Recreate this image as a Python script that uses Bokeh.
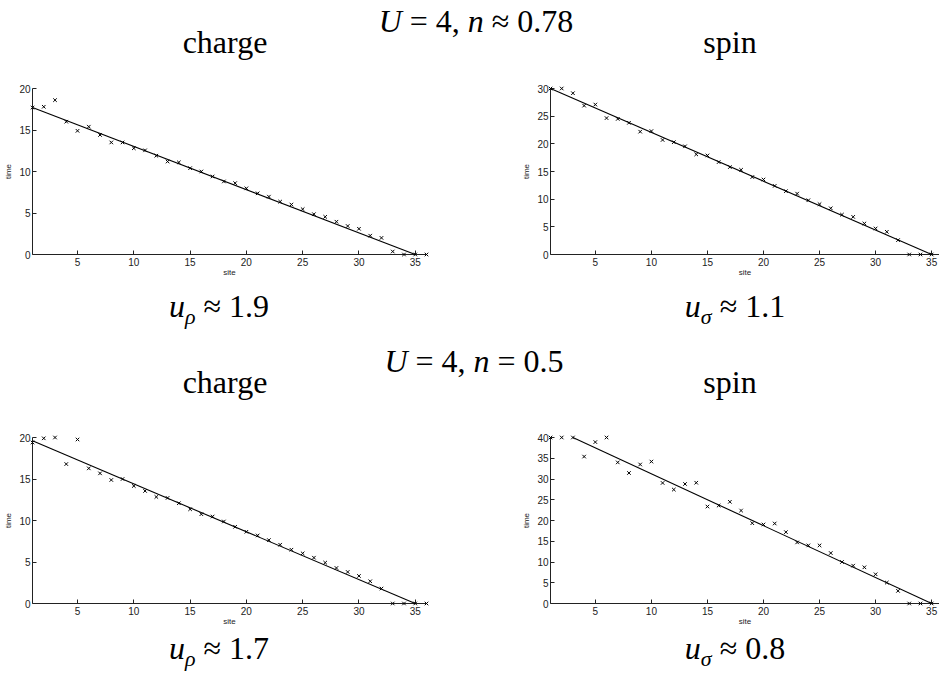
from bokeh.plotting import figure
from bokeh.models import Range1d, FixedTicker, Div
from bokeh.layouts import column, row
from bokeh.embed import file_html
from bokeh.resources import INLINE

# lattice sites probed by the excitation
sites = list(range(1, 37))

# arrival times, U = 4, n ~ 0.78
charge_n078 = [17.7, 17.8, 18.6, 16.0, 14.9, 15.4, 14.4, 13.5, 13.5, 12.8, 12.55, 11.9,
               11.2, 11.1, 10.4, 10.0, 9.4, 8.8, 8.6, 7.97, 7.37, 6.97, 6.37, 6.02,
               5.46, 4.86, 4.54, 3.95, 3.43, 3.1, 2.27, 2.0, 0.36, 0.0, 0.0, 0.0]
spin_n078 = [30.0, 30.0, 29.15, 26.9, 27.1, 24.65, 24.5, 23.8, 22.2, 22.3, 20.7, 20.3,
             19.55, 18.1, 17.9, 16.7, 15.8, 15.3, 14.0, 13.55, 12.4, 11.45, 11.0, 9.8,
             9.1, 8.35, 7.2, 6.8, 5.6, 4.7, 4.1, 2.6, 0.0, 0.0, 0.0, 0.0]

# arrival times, U = 4, n = 0.5
charge_n05 = [19.4, 19.9, 20.0, 16.8, 19.76, 16.28, 15.68, 14.88, 15.0, 14.16, 13.56, 12.84,
              12.72, 12.08, 11.36, 10.76, 10.48, 9.88, 9.24, 8.64, 8.2, 7.64, 7.08, 6.48,
              6.04, 5.52, 4.92, 4.28, 3.8, 3.32, 2.68, 1.8, 0.0, 0.0, 0.0, 0.0]
spin_n05 = [40.0, 40.0, 40.0, 35.4, 38.9, 40.0, 34.0, 31.45, 33.5, 34.2, 29.05, 27.45,
            28.8, 29.1, 23.36, 23.6, 24.5, 22.4, 19.35, 19.04, 19.28, 17.2, 14.72, 14.0,
            14.0, 12.16, 10.0, 9.12, 8.72, 7.04, 5.04, 3.04, 0.0, 0.0, 0.0, 0.0]

# fitted front velocities and the first site of each fit
u_charge_n078, u_spin_n078 = 1.92, 1.133
u_charge_n05, u_spin_n05 = 1.735, 0.80
fit_start = [1, 1, 1, 3]
front_site = 35

y_ticks_charge = [0, 5, 10, 15, 20]
y_ticks_spin_n078 = [0, 5, 10, 15, 20, 25, 30]
y_ticks_spin_n05 = [0, 5, 10, 15, 20, 25, 30, 35, 40]
x_ticks = [5, 10, 15, 20, 25, 30, 35]

SERIF = "'Liberation Serif', 'Times New Roman', serif"
AXIS_FONT = "Liberation Sans"
INK = "#222222"


def style_axis(ax, label):
    ax.axis_line_color = INK
    ax.major_tick_line_color = INK
    ax.minor_tick_line_color = None
    ax.major_tick_in = 4
    ax.major_tick_out = 0
    ax.major_label_text_font = AXIS_FONT
    ax.major_label_text_font_size = "10px"
    ax.major_label_text_color = INK
    ax.axis_label = label
    ax.axis_label_text_font = AXIS_FONT
    ax.axis_label_text_font_size = "8px"
    ax.axis_label_text_font_style = "normal"
    ax.axis_label_text_color = INK


def panel(times, u, start, yticks, width, height, borders, x_end):
    ymax = yticks[-1]
    p = figure(width=width, height=height, output_backend="svg", toolbar_location=None,
               x_range=Range1d(sites[0], x_end), y_range=Range1d(0, ymax),
               min_border_left=borders[0], min_border_right=borders[1],
               min_border_top=borders[2], min_border_bottom=borders[3])
    p.outline_line_color = None
    p.grid.visible = False
    p.background_fill_color = "white"
    p.border_fill_color = "white"

    # drawn on the overlay level so markers sitting on the axes are not cut off
    p.scatter(sites, times, marker="x", size=5, line_color="black", line_width=1,
              level="overlay")
    p.line([start, front_site], [(front_site - start) / u, 0],
           line_color="black", line_width=1.1, level="overlay")

    xa = p.xaxis[0]
    xa.ticker = FixedTicker(ticks=x_ticks)
    style_axis(xa, "site")
    xa.major_label_standoff = 3
    xa.axis_label_standoff = -1

    ya = p.yaxis[0]
    ya.ticker = FixedTicker(ticks=yticks)
    style_axis(ya, "time")
    ya.major_label_standoff = 2
    ya.axis_label_standoff = 3
    return p


def text_block(width, height, items):
    parts = []
    for cx, baseline, html in items:
        parts.append(
            f'<div style="position:absolute;left:{cx - 250}px;width:500px;top:{baseline - 26}px;'
            f'text-align:center;font-family:{SERIF};font-size:32px;line-height:30px;'
            f'white-space:nowrap;color:#000">{html}</div>')
    html = (f'<div style="position:relative;width:{width}px;height:{height}px;overflow:visible">'
            + "".join(parts) + "</div>")
    return Div(text=html, width=width, height=height, margin=0)


def velocity(sym, u):
    return (f'<i>u</i><span style="font-size:22px;font-style:italic;position:relative;top:7px">'
            f'{sym}</span> &#8776; {u:.1f}')


W = 939
top_a = text_block(W, 60, [
    (476, 32, '<i>U</i> = 4, <i>n</i> &#8776; 0.78'),
    (225, 53, 'charge'),
    (730, 53, 'spin'),
])

p_tl = panel(charge_n078, u_charge_n078, fit_start[0], y_ticks_charge, 470, 220,
             (32, 44, 27, 26), sites[-1])
p_tr = panel(spin_n078, u_spin_n078, fit_start[1], y_ticks_spin_n078, 469, 220,
             (80, 0, 28, 25), 35.7)

mid = text_block(W, 140, [
    (219, 37, velocity("&#961;", u_charge_n078)),
    (735, 37, velocity("&#963;", u_spin_n078)),
    (474, 92, '<i>U</i> = 4, <i>n</i> = 0.5'),
    (225, 113, 'charge'),
    (730, 113, 'spin'),
])

p_bl = panel(charge_n05, u_charge_n05, fit_start[2], y_ticks_charge, 470, 210,
             (32, 44, 16, 27), sites[-1])
p_br = panel(spin_n05, u_spin_n05, fit_start[3], y_ticks_spin_n05, 469, 210,
             (80, 0, 17, 27), 35.7)

bottom = text_block(W, 45, [
    (219, 29, velocity("&#961;", u_charge_n05)),
    (735, 29, velocity("&#963;", u_spin_n05)),
])

layout = column(top_a, row(p_tl, p_tr), mid, row(p_bl, p_br), bottom)

open("out.html", "w").write(file_html(layout, INLINE))
